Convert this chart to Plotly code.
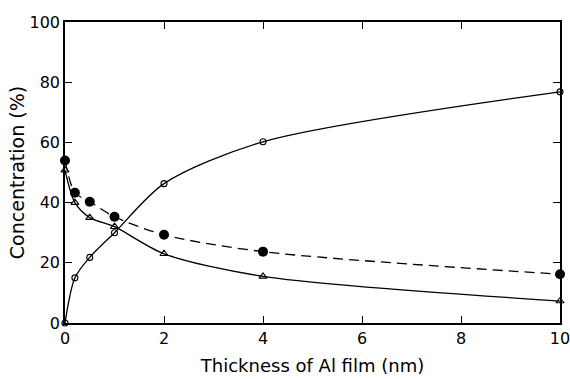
import plotly.graph_objects as go

# Al film thickness (nm) at which each composition was measured
thickness = [0, 0.2, 0.5, 1, 2, 4, 10]

# Concentration (%) of the three species
rising_open = [0, 15, 21.8, 30, 46.3, 60.2, 76.8]
falling_filled = [54, 43.3, 40.3, 35.3, 29.3, 23.7, 16.2]
falling_triangle = [50.8, 40, 35, 32, 23, 15.5, 7.3]

x_ticks = [0, 2, 4, 6, 8, 10]
y_ticks = [0, 20, 40, 60, 80, 100]

fig = go.Figure()

fig.add_trace(go.Scatter(
    x=thickness, y=rising_open, mode="lines+markers",
    line=dict(color="black", width=1.3, shape="spline", smoothing=0.8),
    marker=dict(symbol="circle-open", size=6, color="black", line=dict(width=1.1)),
    showlegend=False, cliponaxis=False,
))
fig.add_trace(go.Scatter(
    x=thickness, y=falling_filled, mode="lines+markers",
    line=dict(color="black", width=1.3, dash="10px,6px", shape="spline", smoothing=0.8),
    marker=dict(symbol="circle", size=10, color="black"),
    showlegend=False, cliponaxis=False,
))
fig.add_trace(go.Scatter(
    x=thickness, y=falling_triangle, mode="lines+markers",
    line=dict(color="black", width=1.3, shape="spline", smoothing=0.8),
    marker=dict(symbol="triangle-up-open", size=7, color="black", line=dict(width=1.1)),
    showlegend=False, cliponaxis=False,
))

axis_font = dict(family="DejaVu Sans, Liberation Sans, sans-serif", size=16, color="black")

fig.update_xaxes(
    range=[0, 10], tickvals=x_ticks, ticktext=[str(v) for v in x_ticks],
    ticks="inside", ticklen=7, tickwidth=1.3, tickcolor="black",
    showline=True, linecolor="black", linewidth=1.5, mirror="allticks",
    showgrid=False, zeroline=False, tickfont=axis_font, automargin=False,
    ticklabeloverflow="allow",
    title=dict(text="Thickness of Al film (nm)", standoff=12,
               font=dict(family="DejaVu Sans, sans-serif", size=18, color="black")),
)
fig.update_yaxes(
    range=[0, 100], tickvals=y_ticks, ticktext=[str(v) for v in y_ticks],
    ticks="inside", ticklen=7, tickwidth=1.3, tickcolor="black",
    showline=True, linecolor="black", linewidth=1.5, mirror="allticks",
    showgrid=False, zeroline=False, tickfont=axis_font, automargin=False,
    ticklabeloverflow="allow",
    title=dict(text="Concentration (%)", standoff=0,
               font=dict(family="DejaVu Sans, sans-serif", size=19, color="black")),
)

fig.update_layout(
    width=570, height=379,
    margin=dict(l=65, r=10, t=22, b=56),
    plot_bgcolor="white", paper_bgcolor="white",
)

fig.write_html("out.html")
